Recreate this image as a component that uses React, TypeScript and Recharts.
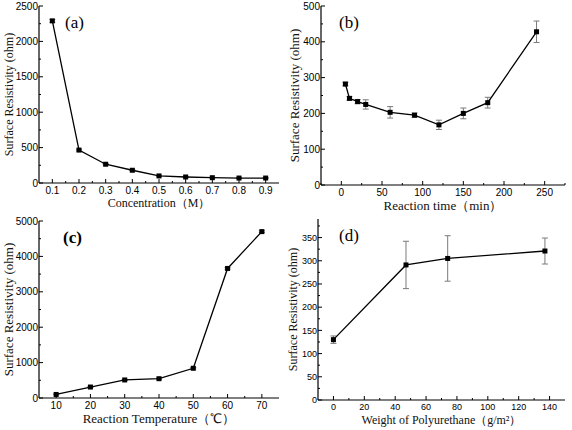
import React from 'react';
import { LineChart, Line, XAxis, YAxis, ErrorBar } from 'recharts';

// (a) concentration
const concentration = [0.1, 0.2, 0.3, 0.4, 0.5, 0.6, 0.7, 0.8, 0.9];
const resistivityA = [2290, 465, 265, 180, 100, 85, 75, 70, 70];
const errorA = [20, 12, 10, 8, 6, 5, 5, 5, 5];
const xTicksA = [0.1, 0.2, 0.3, 0.4, 0.5, 0.6, 0.7, 0.8, 0.9];
const xMinorA = [0.15, 0.25, 0.35, 0.45, 0.55, 0.65, 0.75, 0.85];
const yTicksA = [0, 500, 1000, 1500, 2000, 2500];
const yMinorA = [250, 750, 1250, 1750, 2250];

// (b) reaction time
const reactionTime = [5, 10, 20, 30, 60, 90, 120, 150, 180, 240];
const resistivityB = [282, 242, 233, 225, 203, 195, 168, 200, 230, 428];
const errorB = [5, 5, 6, 13, 16, 6, 13, 15, 15, 30];
const xTicksB = [0, 50, 100, 150, 200, 250];
const xMinorB = [-25, 25, 75, 125, 175, 225, 275];
const yTicksB = [0, 100, 200, 300, 400, 500];
const yMinorB = [50, 150, 250, 350, 450];

// (c) reaction temperature
const temperature = [10, 20, 30, 40, 50, 60, 70];
const resistivityC = [100, 310, 510, 545, 840, 3660, 4700];
const errorC = [10, 12, 15, 15, 20, 25, 25];
const xTicksC = [10, 20, 30, 40, 50, 60, 70];
const xMinorC = [15, 25, 35, 45, 55, 65];
const yTicksC = [0, 1000, 2000, 3000, 4000, 5000];
const yMinorC = [500, 1500, 2500, 3500, 4500];

// (d) weight of polyurethane
const puWeight = [0, 47, 74, 137];
const resistivityD = [130, 291, 305, 321];
const errorD = [8, 51, 49, 28];
const xTicksD = [0, 20, 40, 60, 80, 100, 120, 140];
const xMinorD = [10, 30, 50, 70, 90, 110, 130];
const yTicksD = [0, 50, 100, 150, 200, 250, 300, 350];
const yMinorD = [25, 75, 125, 175, 225, 275, 325, 375];

const SERIF = '"Liberation Serif", "Times New Roman", serif';
const SANS = '"Liberation Sans", Arial, sans-serif';

const isIn = (arr: number[], v: number) => arr.some((m) => Math.abs(m - v) < 1e-9);

const makeXTick = (major: number[], fontSize: number) => (props: any) => {
  const { x, y, payload } = props;
  const mj = isIn(major, payload.value);
  return (
    <g>
      <line x1={x} y1={y} x2={x} y2={y - (mj ? 4 : 2)} stroke="#000" strokeWidth={1} />
      {mj && (
        <text x={x} y={y + fontSize + 1} textAnchor="middle" fontFamily={SANS} fontSize={fontSize} fill="#000">
          {String(payload.value)}
        </text>
      )}
    </g>
  );
};

const makeYTick = (major: number[], fontSize: number) => (props: any) => {
  const { x, y, payload } = props;
  const mj = isIn(major, payload.value);
  return (
    <g>
      <line x1={x} y1={y} x2={x + (mj ? 4 : 2)} y2={y} stroke="#000" strokeWidth={1} />
      {mj && (
        <text x={x - 1} y={y + fontSize * 0.36} textAnchor="end" fontFamily={SANS} fontSize={fontSize} fill="#000">
          {String(payload.value)}
        </text>
      )}
    </g>
  );
};

const SquareDot = (props: any) => {
  const { cx, cy } = props;
  if (cx == null || cy == null) return <g />;
  return <rect x={cx - 2.5} y={cy - 2.5} width={5} height={5} fill="#000" />;
};

type PanelProps = {
  left: number;
  top: number;
  xs: number[];
  ys: number[];
  errs: number[];
  xDomain: [number, number];
  yDomain: [number, number];
  xMajor: number[];
  xMinor: number[];
  yMajor: number[];
  yMinor: number[];
  yAxisWidth: number;
  marginTop: number;
  marginRight: number;
  xAxisHeight: number;
  xLabel: string;
  labelSize: number;
  yLabelOffset: number;
  xLabelOffset: number;
  tickSize: number;
  tag: string;
  tagX: number;
  tagY: number;
  tagBold?: boolean;
};

function Panel(p: PanelProps) {
  const data = p.xs.map((x, i) => ({ x, y: p.ys[i], err: p.errs[i] }));
  const xt = [...p.xMajor, ...p.xMinor].filter((v) => v >= p.xDomain[0] && v <= p.xDomain[1]).sort((a, b) => a - b);
  const yt = [...p.yMajor, ...p.yMinor].filter((v) => v >= p.yDomain[0] && v <= p.yDomain[1]).sort((a, b) => a - b);
  return (
    <div style={{ position: 'absolute', left: p.left, top: p.top, width: 286, height: 215 }}>
      <LineChart
        width={286}
        height={215}
        data={data}
        margin={{ top: p.marginTop, right: p.marginRight, bottom: 0, left: 0 }}
      >
        <XAxis
          type="number"
          dataKey="x"
          domain={p.xDomain}
          ticks={xt}
          interval={0}
          allowDataOverflow
          height={p.xAxisHeight}
          tickSize={0}
          tickMargin={0}
          tickLine={false}
          axisLine={{ stroke: '#000', strokeWidth: 1.2 }}
          tick={makeXTick(p.xMajor, p.tickSize)}
          label={{
            value: p.xLabel,
            position: 'insideBottom',
            offset: p.xLabelOffset,
            style: { fontFamily: SERIF, fontSize: p.labelSize, fill: '#111', textAnchor: 'middle' },
          }}
        />
        <XAxis
          xAxisId="top"
          orientation="top"
          type="number"
          dataKey="x"
          domain={p.xDomain}
          height={0}
          tick={false}
          tickLine={false}
          axisLine={{ stroke: '#6a6a6a', strokeWidth: 1.2 }}
        />
        <YAxis
          type="number"
          domain={p.yDomain}
          ticks={yt}
          interval={0}
          allowDataOverflow
          width={p.yAxisWidth}
          tickSize={0}
          tickMargin={0}
          tickLine={false}
          axisLine={{ stroke: '#000', strokeWidth: 1.2 }}
          tick={makeYTick(p.yMajor, p.tickSize)}
          label={{
            value: 'Surface Resistivity (ohm)',
            angle: -90,
            position: 'insideLeft',
            offset: p.yLabelOffset,
            style: { fontFamily: SERIF, fontSize: p.labelSize, fill: '#111', textAnchor: 'middle' },
          }}
        />
        <YAxis
          yAxisId="right"
          orientation="right"
          type="number"
          domain={p.yDomain}
          width={0}
          tick={false}
          tickLine={false}
          axisLine={{ stroke: '#6a6a6a', strokeWidth: 1.2 }}
        />
        <Line
          type="linear"
          dataKey="y"
          stroke="#000"
          strokeWidth={1.3}
          dot={<SquareDot />}
          activeDot={false}
          isAnimationActive={false}
        >
          <ErrorBar dataKey="err" direction="y" width={3} stroke="#7a7a7a" strokeWidth={1} isAnimationActive={false} />
        </Line>
      </LineChart>
      <div
        style={{
          position: 'absolute',
          left: p.tagX,
          top: p.tagY,
          fontFamily: SERIF,
          fontSize: 17,
          fontWeight: p.tagBold ? 'bold' : 'normal',
          color: '#000',
          lineHeight: 1,
        }}
      >
        {p.tag}
      </div>
    </div>
  );
}

export default function App() {
  return (
    <div style={{ position: 'absolute', left: 0, top: 0, width: 572, height: 430, background: '#fff', overflow: 'hidden' }}>
      <Panel
        left={0}
        top={0}
        xs={concentration}
        ys={resistivityA}
        errs={errorA}
        xDomain={[0.05, 0.95]}
        yDomain={[0, 2500]}
        xMajor={xTicksA}
        xMinor={xMinorA}
        yMajor={yTicksA}
        yMinor={yMinorA}
        yAxisWidth={39}
        marginTop={6}
        marginRight={7}
        xAxisHeight={32}
        xLabel="Concentration（M）"
        labelSize={12}
        yLabelOffset={9}
        xLabelOffset={8}
        tickSize={10}
        tag="(a)"
        tagX={65}
        tagY={14}
      />
      <Panel
        left={286}
        top={0}
        xs={reactionTime}
        ys={resistivityB}
        errs={errorB}
        xDomain={[-25, 275]}
        yDomain={[0, 500]}
        xMajor={xTicksB}
        xMinor={xMinorB}
        yMajor={yTicksB}
        yMinor={yMinorB}
        yAxisWidth={35}
        marginTop={6}
        marginRight={7}
        xAxisHeight={30}
        xLabel="Reaction time（min）"
        labelSize={13}
        yLabelOffset={8}
        xLabelOffset={5}
        tickSize={10}
        tag="(b)"
        tagX={53}
        tagY={14}
      />
      <Panel
        left={0}
        top={215}
        xs={temperature}
        ys={resistivityC}
        errs={errorC}
        xDomain={[5, 75]}
        yDomain={[0, 5000]}
        xMajor={xTicksC}
        xMinor={xMinorC}
        yMajor={yTicksC}
        yMinor={yMinorC}
        yAxisWidth={39}
        marginTop={6}
        marginRight={7}
        xAxisHeight={32}
        xLabel="Reaction Temperature（℃）"
        labelSize={13}
        yLabelOffset={8}
        xLabelOffset={7}
        tickSize={10}
        tag="(c)"
        tagX={63}
        tagY={14}
        tagBold
      />
      <Panel
        left={286}
        top={215}
        xs={puWeight}
        ys={resistivityD}
        errs={errorD}
        xDomain={[-10, 150]}
        yDomain={[0, 390]}
        xMajor={xTicksD}
        xMinor={xMinorD}
        yMajor={yTicksD}
        yMinor={yMinorD}
        yAxisWidth={32}
        marginTop={4}
        marginRight={7}
        xAxisHeight={30}
        xLabel="Weight of Polyurethane（g/m²）"
        labelSize={12}
        yLabelOffset={7}
        xLabelOffset={6}
        tickSize={9}
        tag="(d)"
        tagX={53}
        tagY={12}
      />
    </div>
  );
}
